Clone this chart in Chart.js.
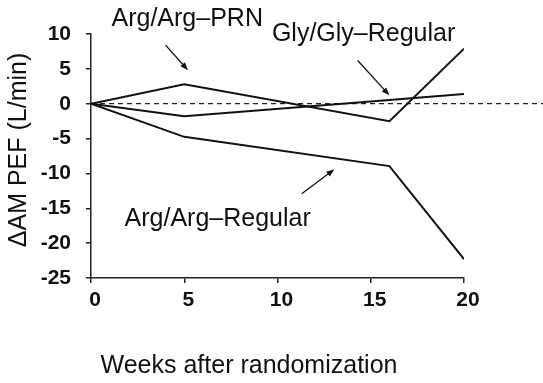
<!DOCTYPE html>
<html>
<head>
<meta charset="utf-8">
<script src="https://cdn.jsdelivr.net/npm/chart.js@4"></script>
<style>
  html, body { margin: 0; padding: 0; background: #fff; }
  #wrap { width: 543px; height: 383px; }
</style>
</head>
<body>
<div id="wrap"><canvas id="pefChart" width="543" height="383"></canvas></div>
<script>
// weeks after randomization, change in AM PEF (L/min)
const weeks = [0, 5, 16, 20];
const argArgPrn = [0, 2.8, -2.5, 7.9];
const glyGlyRegular = [0, -1.8, 0.55, 1.4];
const argArgRegular = [0, -4.75, -8.95, -22.3];
const seriesNames = ['Arg/Arg\u2013PRN', 'Gly/Gly\u2013Regular', 'Arg/Arg\u2013Regular'];
const xTicks = [0, 5, 10, 15, 20];
const yTicks = [10, 5, 0, -5, -10, -15, -20, -25];
const xTitle = 'Weeks after randomization';
const yTitle = '\u0394AM PEF (L/min)';

const FONT = "'Liberation Sans', Arial, sans-serif";

function toPoints(ys) {
    return weeks.map((w, i) => ({ x: w, y: ys[i] }));
}

// label text + arrow (in data units)
const callouts = [
    { text: seriesNames[0], x: 1.1, y: 11.1, from: [4.0, 8.4], to: [5.2, 4.8] },
    { text: seriesNames[1], x: 9.7, y: 8.95, from: [14.3, 6.2], to: [16.0, 1.2] },
    { text: seriesNames[2], x: 1.8, y: -17.6, from: [11.3, -12.9], to: [13.05, -9.4] }
];

const zeroLine = {
    id: 'zeroLine',
    beforeDatasetsDraw(chart) {
        const { ctx, scales: { x, y } } = chart;
        const py = y.getPixelForValue(0);
        ctx.save();
        ctx.strokeStyle = '#222';
        ctx.lineWidth = 1.2;
        ctx.setLineDash([5, 4]);
        ctx.beginPath();
        ctx.moveTo(x.getPixelForValue(0), py);
        ctx.lineTo(chart.width, py);
        ctx.stroke();
        ctx.restore();
    }
};

const calloutPlugin = {
    id: 'callouts',
    afterDraw(chart) {
        const { ctx, chartArea, scales: { x, y } } = chart;
        ctx.save();
        ctx.fillStyle = '#111';
        ctx.strokeStyle = '#111';
        ctx.font = '25px ' + FONT;
        ctx.textAlign = 'left';
        ctx.textBaseline = 'alphabetic';
        callouts.forEach(c => {
            ctx.fillText(c.text, x.getPixelForValue(c.x), y.getPixelForValue(c.y));
            const x1 = x.getPixelForValue(c.from[0]), y1 = y.getPixelForValue(c.from[1]);
            const x2 = x.getPixelForValue(c.to[0]), y2 = y.getPixelForValue(c.to[1]);
            const ang = Math.atan2(y2 - y1, x2 - x1);
            ctx.lineWidth = 1.3;
            ctx.beginPath();
            ctx.moveTo(x1, y1);
            ctx.lineTo(x2 - 5 * Math.cos(ang), y2 - 5 * Math.sin(ang));
            ctx.stroke();
            ctx.beginPath();
            ctx.moveTo(x2, y2);
            ctx.lineTo(x2 - 8 * Math.cos(ang) + 3 * Math.sin(ang), y2 - 8 * Math.sin(ang) - 3 * Math.cos(ang));
            ctx.lineTo(x2 - 8 * Math.cos(ang) - 3 * Math.sin(ang), y2 - 8 * Math.sin(ang) + 3 * Math.cos(ang));
            ctx.closePath();
            ctx.fill();
        });

        // axis titles
        ctx.textAlign = 'center';
        ctx.fillText(xTitle, chartArea.left + 158, 373);
        ctx.translate(26, chartArea.top + 116);
        ctx.rotate(-Math.PI / 2);
        ctx.font = '25px ' + FONT;
        ctx.fillText(yTitle, 0, 0);
        ctx.restore();
    }
};

const lineStyle = {
    borderColor: '#111',
    borderWidth: 2,
    pointRadius: 0,
    fill: false,
    tension: 0
};

new Chart(document.getElementById('pefChart'), {
    type: 'line',
    data: {
        datasets: [
            { label: seriesNames[0], data: toPoints(argArgPrn), ...lineStyle },
            { label: seriesNames[1], data: toPoints(glyGlyRegular), ...lineStyle },
            { label: seriesNames[2], data: toPoints(argArgRegular), ...lineStyle }
        ]
    },
    options: {
        responsive: false,
        animation: false,
        layout: { padding: { top: 34, right: 79, bottom: 0, left: 0 } },
        plugins: { legend: { display: false }, tooltip: { enabled: false } },
        scales: {
            x: {
                type: 'linear',
                min: 0,
                max: 20,
                afterBuildTicks: s => { s.ticks = xTicks.map(v => ({ value: v })); },
                afterFit: s => { s.height = 105; },
                grid: { drawOnChartArea: false, drawTicks: true, tickLength: 5, color: '#222', lineWidth: 1.5 },
                border: { display: true, color: '#222', width: 1.5 },
                ticks: { color: '#111', padding: 5, labelOffset: 4, font: { family: FONT, size: 21, weight: 'bold' } }
            },
            y: {
                type: 'linear',
                min: -25,
                max: 10,
                afterBuildTicks: s => { s.ticks = yTicks.map(v => ({ value: v })); },
                afterFit: s => { s.width = 91; },
                grid: { drawOnChartArea: false, drawTicks: true, tickLength: 5, color: '#222', lineWidth: 1.5 },
                border: { display: true, color: '#222', width: 1.5 },
                ticks: { color: '#111', padding: 15, font: { family: FONT, size: 21, weight: 'bold' } }
            }
        }
    },
    plugins: [zeroLine, calloutPlugin]
});
</script>
</body>
</html>
